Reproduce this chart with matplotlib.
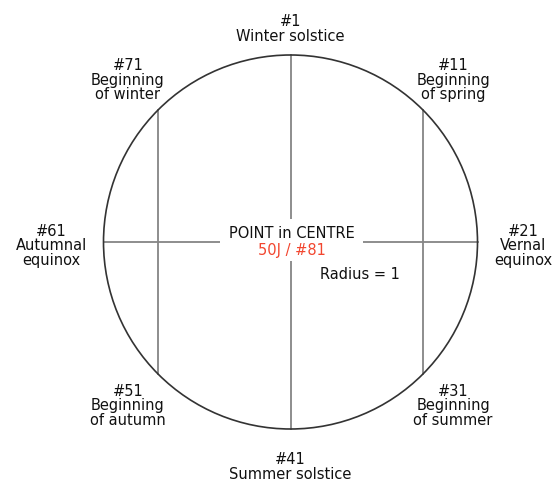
import numpy as np
import matplotlib
matplotlib.use("Agg")
from matplotlib import pyplot as plt
from matplotlib.patches import Circle, Rectangle

# 80 points round the circle, #1 at the top, counted clockwise
n_points = 80
point_numbers = [1, 11, 21, 31, 41, 51, 61, 71]
point_names = ["Winter solstice", "Beginning\nof spring", "Vernal\nequinox",
               "Beginning\nof summer", "Summer solstice", "Beginning\nof autumn",
               "Autumnal\nequinox", "Beginning\nof winter"]
chords = [(1, 41), (61, 21), (71, 51), (11, 31)]
centre_title = "POINT in CENTRE"
centre_label = "50J / #81"
radius_label = "Radius = 1"


def pos(num, r=1.0):
    a = np.deg2rad((num - 1) * 360.0 / n_points)
    return r * np.sin(a), r * np.cos(a)


fig = plt.figure(figsize=(5.53, 4.85), dpi=100)
ax = fig.add_axes([0, 0, 1, 1])
ax.set_xlim(-290.5 / 187, (553 - 290.5) / 187)
ax.set_ylim(-(485 - 243) / 187, 243 / 187)
ax.axis("off")

ax.add_patch(Circle((0, 0), 1.0, fill=False, ec="#333333", lw=1.2, zorder=3))

for a, b in chords:
    xa, ya = pos(a)
    xb, yb = pos(b)
    ax.plot([xa, xb], [ya, yb], color="#858585", lw=1.3, zorder=1)

# white box behind the centre text
ax.add_patch(Rectangle((-0.377, -0.10), 0.765, 0.223, fc="white", ec="none", zorder=2))

fs = 10.5
for num, name in zip(point_numbers, point_names):
    label = "#%d\n%s" % (num, name)
    sx, cy = pos(num)
    if abs(sx) > 0.3 and abs(cy) > 0.3:
        x, y = pos(num, 1.23)
        ha, va = "center", "center"
    elif abs(sx) > 0.3:
        x, y = pos(num, 1.09)
        ha, va = ("left" if sx > 0 else "right"), "center"
        y -= 0.015
    else:
        x, y = pos(num, 1.065 if cy > 0 else 1.12)
        ha, va = "center", ("bottom" if cy > 0 else "top")
    ax.text(x, y, label, ha=ha, va=va, multialignment="center",
            fontsize=fs, linespacing=0.95, color="#111111", zorder=4)

ax.text(0.005, 0.053, centre_title, ha="center", va="center", fontsize=fs,
        color="#111111", zorder=4)
ax.text(0.01, -0.04, centre_label, ha="center", va="center", fontsize=fs,
        color="#f2462f", zorder=4)
ax.text(0.158, -0.171, radius_label, ha="left", va="center", fontsize=fs,
        color="#111111", zorder=4)

plt.savefig("out.png", dpi=100)
